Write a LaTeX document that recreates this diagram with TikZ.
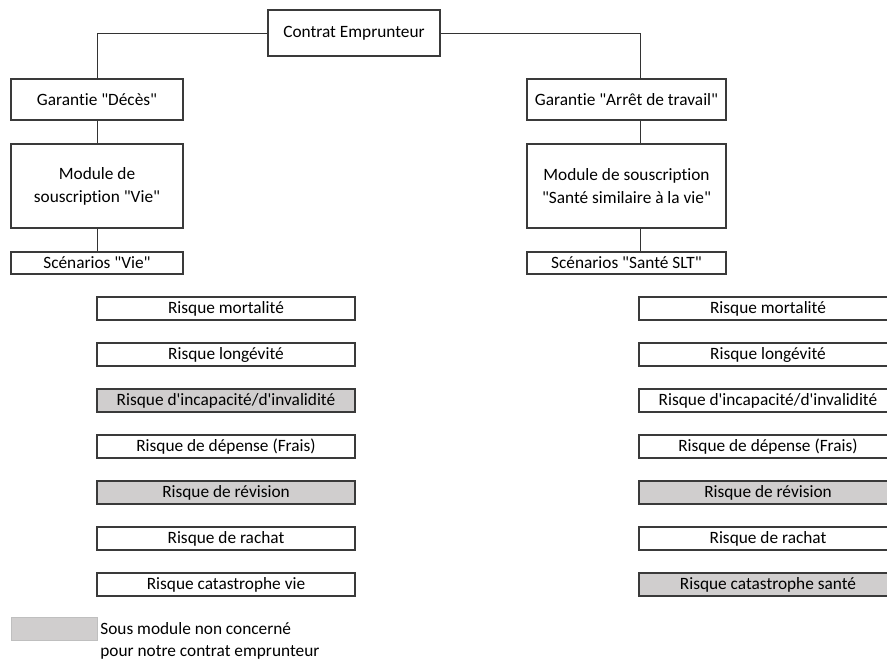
\documentclass[tikz,border=0pt]{standalone}
\usepackage{fontspec}
\defaultfontfeatures[\rmfamily,\sffamily]{}
\setmainfont{Carlito}[Ligatures=NoCommon]
\usetikzlibrary{positioning}
\definecolor{notconcerned}{HTML}{D0CECE}
\definecolor{boxline}{HTML}{3A3A3A}
\tikzset{
	box/.style={draw=boxline, line width=1.2pt, fill=white, inner sep=0pt, align=center,
		font=\fontsize{17.3}{23}\selectfont},
	riskbox/.style={box, minimum width=258pt, minimum height=23pt},
	shaded/.style={fill=notconcerned},
	link/.style={draw=black!80, line width=0.7pt}
}
\begin{document}
\begin{tikzpicture}[x=1pt,y=-1pt]
	\useasboundingbox (0,0) rectangle (887,659);
	
	% top of the tree
	\node[box, minimum width=172pt, minimum height=46pt] (contrat) at (354,33) {Contrat Emprunteur};
	
	% branche deces
	\node[box, minimum width=172pt, minimum height=41pt] (gdeces) at (97,99.5) {Garantie "Décès"};
	\node[box, minimum width=172pt, minimum height=84pt] (mvie) at (97,186) {Module de\\souscription "Vie"};
	\node[box, minimum width=172pt, minimum height=22pt] (svie) at (97,263) {Scénarios "Vie"};
	
	% branche arret de travail
	\node[box, minimum width=199pt, minimum height=41pt] (garret) at (626.5,99.5) {Garantie "Arrêt de travail"};
	\node[box, minimum width=199pt, minimum height=84pt] (msante) at (626.5,186) {Module de souscription\\"Santé similaire à la vie"};
	\node[box, minimum width=199pt, minimum height=22pt] (ssante) at (626.5,263) {Scénarios "Santé SLT"};
	\coordinate (jr) at (640,79);
	
	\draw[link] (contrat.west) -| (gdeces.north);
	\draw[link] (contrat.east) -| (jr);
	\draw[link] (gdeces.south) -- (mvie.north);
	\draw[link] (mvie.south) -- (svie.north);
	\draw[link] (garret.south -| jr) -- (msante.north -| jr);
	\draw[link] (msante.south -| jr) -- (ssante.north -| jr);
	
	% sous modules
	\foreach \i/\txt/\lsty/\rsty in {
		0/Risque mortalité/riskbox/riskbox,
		1/Risque longévité/riskbox/riskbox,
		2/{Risque d'incapacité/d'invalidité}/shaded/riskbox,
		3/Risque de dépense (Frais)/riskbox/riskbox,
		4/Risque de révision/shaded/shaded,
		5/Risque de rachat/riskbox/riskbox} {
		\node[riskbox, \lsty] (lrisk\i) at (226,308.5+46*\i) {\txt};
		\node[riskbox, \rsty] (rrisk\i) at (768,308.5+46*\i) {\txt};
	}
	\node[riskbox] (lrisk6) at (226,584.5) {Risque catastrophe vie};
	\node[riskbox, shaded] (rrisk6) at (768,584.5) {Risque catastrophe santé};
	
	% legende
	\node[draw=black!25, fill=notconcerned, minimum width=86pt, minimum height=23pt, inner sep=0pt] (legbox) at (54,628.5) {};
	\node[anchor=west, align=left, inner sep=0pt, font=\fontsize{17.3}{22}\selectfont, right=3pt of legbox.east, yshift=-12pt] (legtxt) {Sous module non concerné\\pour notre contrat emprunteur};
\end{tikzpicture}
\end{document}
